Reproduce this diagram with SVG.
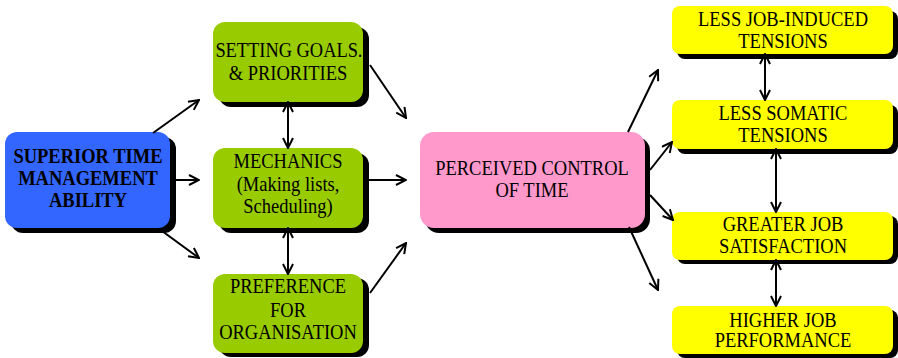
<svg xmlns="http://www.w3.org/2000/svg" width="898" height="358" viewBox="0 0 898 358">
<style>
text{font-family:'Liberation Serif','Times New Roman',serif;font-size:20px;fill:#000;text-anchor:middle}
.b{font-weight:bold}
.sh{fill:#000}
.blue{fill:#3366ff}
.green{fill:#99cc00}
.pink{fill:#ff99cc}
.yel{fill:#ffff00}
.c line{stroke:#000;stroke-width:2;fill:none;marker-end:url(#ah)}
.c line.d{marker-start:url(#ah)}
</style>
<defs>
<marker id="ah" viewBox="0 0 12 12" refX="11" refY="6" markerWidth="12" markerHeight="12" markerUnits="userSpaceOnUse" orient="auto-start-reverse">
<path d="M1,1 L11,6 L1,11" fill="none" stroke="#000" stroke-width="2"/>
</marker>
</defs>

<g id="superior">
<rect class="sh" x="11" y="137" width="165" height="96" rx="12"/>
<rect class="blue" x="5" y="132" width="165" height="96" rx="12"/>
<g transform="translate(88 0) scale(0.925 1)">
<text class="b" x="0" y="163">SUPERIOR TIME</text>
<text class="b" x="0" y="185">MANAGEMENT</text>
<text class="b" x="0" y="207">ABILITY</text>
</g>
</g>

<g id="setting">
<rect class="sh" x="219" y="27" width="150" height="80" rx="12"/>
<rect class="green" x="213" y="22" width="150" height="80" rx="12"/>
<g transform="translate(288 0) scale(0.925 1)">
<text x="1" y="57" textLength="159" lengthAdjust="spacingAndGlyphs">SETTING GOALS.</text>
<text x="0" y="80">&amp; PRIORITIES</text>
</g>
</g>

<g id="mechanics">
<rect class="sh" x="219" y="153" width="150" height="80" rx="12"/>
<rect class="green" x="213" y="148" width="150" height="80" rx="12"/>
<g transform="translate(288 0) scale(0.925 1)">
<text x="0" y="168">MECHANICS</text>
<text x="0" y="191">(Making lists,</text>
<text x="0" y="213">Scheduling)</text>
</g>
</g>

<g id="preference">
<rect class="sh" x="219" y="278" width="150" height="79" rx="12"/>
<rect class="green" x="213" y="274" width="150" height="79" rx="12"/>
<g transform="translate(288 0) scale(0.925 1)">
<text x="0" y="293">PREFERENCE</text>
<text x="0" y="317">FOR</text>
<text x="0" y="339">ORGANISATION</text>
</g>
</g>

<g id="perceived">
<rect class="sh" x="425" y="137" width="225" height="96" rx="14"/>
<rect class="pink" x="420" y="132" width="225" height="96" rx="14"/>
<g transform="translate(532 0) scale(0.925 1)">
<text x="0" y="175">PERCEIVED CONTROL</text>
<text x="0" y="197">OF TIME</text>
</g>
</g>

<g id="jobinduced">
<rect class="sh" x="677" y="11" width="221" height="48" rx="8"/>
<rect class="yel" x="672" y="6" width="221" height="48" rx="8"/>
<g transform="translate(783 0) scale(0.925 1)">
<text x="0" y="26">LESS JOB-INDUCED</text>
<text x="0" y="48">TENSIONS</text>
</g>
</g>

<g id="somatic">
<rect class="sh" x="677" y="105" width="221" height="49" rx="8"/>
<rect class="yel" x="672" y="100" width="221" height="49" rx="8"/>
<g transform="translate(783 0) scale(0.925 1)">
<text x="0" y="120">LESS SOMATIC</text>
<text x="0" y="142">TENSIONS</text>
</g>
</g>

<g id="satisfaction">
<rect class="sh" x="677" y="216" width="221" height="48" rx="8"/>
<rect class="yel" x="672" y="212" width="221" height="48" rx="8"/>
<g transform="translate(783 0) scale(0.925 1)">
<text x="0" y="231">GREATER JOB</text>
<text x="0" y="253">SATISFACTION</text>
</g>
</g>

<g id="performance">
<rect class="sh" x="677" y="310" width="221" height="48" rx="8"/>
<rect class="yel" x="672" y="306" width="221" height="48" rx="8"/>
<g transform="translate(783 0) scale(0.925 1)">
<text x="0" y="327">HIGHER JOB</text>
<text x="0" y="347">PERFORMANCE</text>
</g>
</g>

<g id="connectors" class="c">
<line x1="153" y1="133" x2="199" y2="100"/>
<line x1="170" y1="180" x2="199" y2="180"/>
<line x1="162" y1="231" x2="199" y2="258"/>
<line x1="370" y1="65" x2="406" y2="118"/>
<line x1="363" y1="180" x2="406" y2="180"/>
<line x1="370" y1="293" x2="406" y2="243"/>
<line class="d" x1="288" y1="102" x2="288" y2="148"/>
<line class="d" x1="288" y1="228" x2="288" y2="274"/>
<line x1="628" y1="132" x2="658" y2="70"/>
<line x1="650" y1="170" x2="672" y2="142"/>
<line x1="650" y1="195" x2="673" y2="220"/>
<line x1="629" y1="227" x2="658" y2="290"/>
<line class="d" x1="765" y1="54" x2="765" y2="100"/>
<line class="d" x1="776" y1="149" x2="776" y2="212"/>
<line class="d" x1="776" y1="260" x2="776" y2="306"/>
</g>
</svg>
